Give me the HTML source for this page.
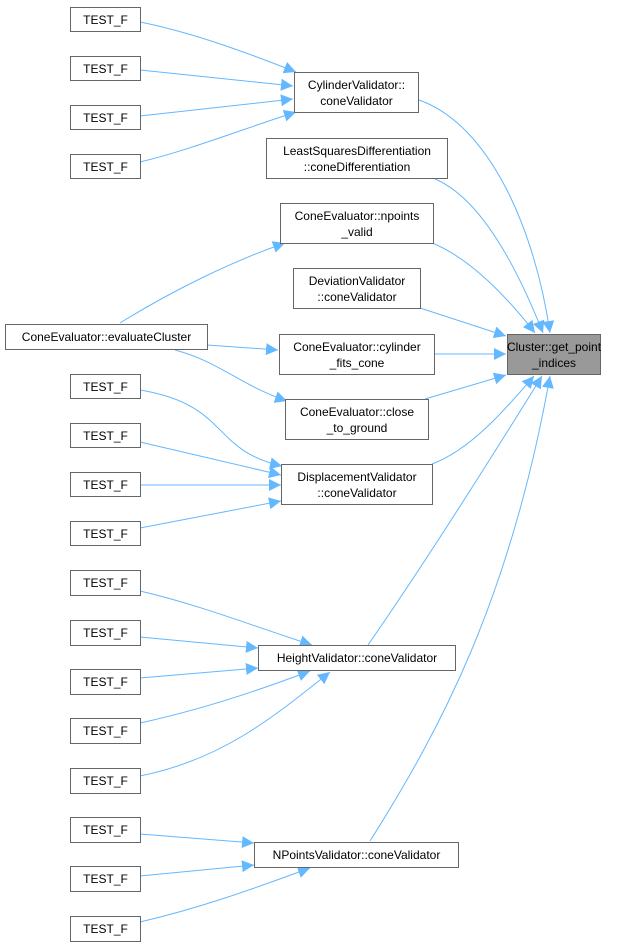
<!DOCTYPE html>
<html><head><meta charset="utf-8"><style>
html,body{margin:0;padding:0;background:#fff;}
svg{display:block;}
text{font-family:"Liberation Sans",Arial,sans-serif;font-size:12px;fill:#000;}
.n{fill:#fff;stroke:#666;stroke-width:1;}
.e{fill:none;stroke:#63b8ff;stroke-width:1;marker-end:url(#a);}
</style></head><body>
<svg width="634" height="947" viewBox="0 0 634 947" xmlns="http://www.w3.org/2000/svg">
<defs><marker id="a" viewBox="0 0 10 10" refX="10" refY="5" markerWidth="12" markerHeight="12" markerUnits="userSpaceOnUse" orient="auto"><path d="M0,0 L10,5 L0,10 z" fill="#63b8ff"/></marker></defs>
<g>
<path class="e" d="M419,100 C490,125 535,230 550,333"/>
<path class="e" d="M435,179 C485,200 522,280 543,333"/>
<path class="e" d="M432,243 C470,258 508,298 535,333"/>
<path class="e" d="M420,308 L506,336"/>
<path class="e" d="M434,354 L506,354"/>
<path class="e" d="M425,399 L506,375"/>
<path class="e" d="M432,464 C470,450 505,410 534,376"/>
<path class="e" d="M368,645 C420,570 490,460 542,376"/>
<path class="e" d="M370,841 C440,730 510,600 550,376"/>

<path class="e" d="M140,22 C190,32 240,50 296,72"/>
<path class="e" d="M140,70 L293,86"/>
<path class="e" d="M140,116 L293,99"/>
<path class="e" d="M140,162 C190,150 240,130 296,112"/>

<path class="e" d="M120,323 C170,292 230,262 285,243"/>
<path class="e" d="M207,345 L278,350"/>
<path class="e" d="M175,350 C220,362 240,385 287,401"/>

<path class="e" d="M140,390 C230,405 210,450 282,466"/>
<path class="e" d="M140,442 L281,475"/>
<path class="e" d="M140,485 L281,485"/>
<path class="e" d="M140,528 L281,501"/>

<path class="e" d="M140,591 C200,605 250,625 312,645"/>
<path class="e" d="M140,637 L258,648"/>
<path class="e" d="M140,678 L258,668"/>
<path class="e" d="M140,723 C200,710 260,690 310,671"/>
<path class="e" d="M140,776 C220,760 270,720 330,672"/>

<path class="e" d="M140,834 L254,843"/>
<path class="e" d="M140,876 L254,865"/>
<path class="e" d="M140,922 C200,908 250,890 310,868"/>
</g>
<g>
<rect class="n" x="70.5" y="7.5" width="70" height="24"/><text x="105.5" y="24" text-anchor="middle">TEST_F</text>
<rect class="n" x="70.5" y="56.5" width="70" height="24"/><text x="105.5" y="73" text-anchor="middle">TEST_F</text>
<rect class="n" x="70.5" y="105.5" width="70" height="24"/><text x="105.5" y="122" text-anchor="middle">TEST_F</text>
<rect class="n" x="70.5" y="154.5" width="70" height="24"/><text x="105.5" y="171" text-anchor="middle">TEST_F</text>

<rect class="n" x="294.5" y="72.5" width="124" height="40"/><text x="356.5" y="89" text-anchor="middle">CylinderValidator::</text><text x="356.5" y="105" text-anchor="middle">coneValidator</text>
<rect class="n" x="266.5" y="138.5" width="181" height="40"/><text x="357" y="155" text-anchor="middle">LeastSquaresDifferentiation</text><text x="357" y="171" text-anchor="middle">::coneDifferentiation</text>
<rect class="n" x="280.5" y="203.5" width="153" height="40"/><text x="357" y="220" text-anchor="middle">ConeEvaluator::npoints</text><text x="357" y="236" text-anchor="middle">_valid</text>
<rect class="n" x="293.5" y="268.5" width="127" height="40"/><text x="357" y="285" text-anchor="middle">DeviationValidator</text><text x="357" y="301" text-anchor="middle">::coneValidator</text>
<rect class="n" x="5.5" y="324.5" width="202" height="25"/><text x="106.5" y="341" text-anchor="middle">ConeEvaluator::evaluateCluster</text>
<rect class="n" x="279.5" y="334.5" width="155" height="40"/><text x="357" y="351" text-anchor="middle">ConeEvaluator::cylinder</text><text x="357" y="367" text-anchor="middle">_fits_cone</text>
<rect x="507.5" y="334.5" width="93" height="40" fill="#999" stroke="#666"/><text x="554" y="351" text-anchor="middle">Cluster::get_point</text><text x="554" y="367" text-anchor="middle">_indices</text>
<rect class="n" x="285.5" y="399.5" width="143" height="40"/><text x="357" y="416" text-anchor="middle">ConeEvaluator::close</text><text x="357" y="432" text-anchor="middle">_to_ground</text>

<rect class="n" x="70.5" y="374.5" width="70" height="24"/><text x="105.5" y="391" text-anchor="middle">TEST_F</text>
<rect class="n" x="70.5" y="423.5" width="70" height="24"/><text x="105.5" y="440" text-anchor="middle">TEST_F</text>
<rect class="n" x="70.5" y="472.5" width="70" height="24"/><text x="105.5" y="489" text-anchor="middle">TEST_F</text>
<rect class="n" x="70.5" y="521.5" width="70" height="24"/><text x="105.5" y="538" text-anchor="middle">TEST_F</text>
<rect class="n" x="281.5" y="464.5" width="151" height="40"/><text x="357" y="481" text-anchor="middle">DisplacementValidator</text><text x="357" y="497" text-anchor="middle">::coneValidator</text>

<rect class="n" x="70.5" y="570.5" width="70" height="25"/><text x="105.5" y="587" text-anchor="middle">TEST_F</text>
<rect class="n" x="70.5" y="620.5" width="70" height="25"/><text x="105.5" y="637" text-anchor="middle">TEST_F</text>
<rect class="n" x="70.5" y="669.5" width="70" height="25"/><text x="105.5" y="686" text-anchor="middle">TEST_F</text>
<rect class="n" x="70.5" y="718.5" width="70" height="25"/><text x="105.5" y="735" text-anchor="middle">TEST_F</text>
<rect class="n" x="70.5" y="768.5" width="70" height="25"/><text x="105.5" y="785" text-anchor="middle">TEST_F</text>
<rect class="n" x="258.5" y="645.5" width="197" height="25"/><text x="357" y="662" text-anchor="middle">HeightValidator::coneValidator</text>

<rect class="n" x="70.5" y="817.5" width="70" height="25"/><text x="105.5" y="834" text-anchor="middle">TEST_F</text>
<rect class="n" x="70.5" y="866.5" width="70" height="25"/><text x="105.5" y="883" text-anchor="middle">TEST_F</text>
<rect class="n" x="70.5" y="916.5" width="70" height="25"/><text x="105.5" y="933" text-anchor="middle">TEST_F</text>
<rect class="n" x="254.5" y="842.5" width="204" height="25"/><text x="356.5" y="859" text-anchor="middle">NPointsValidator::coneValidator</text>
</g>
</svg>
</body></html>
